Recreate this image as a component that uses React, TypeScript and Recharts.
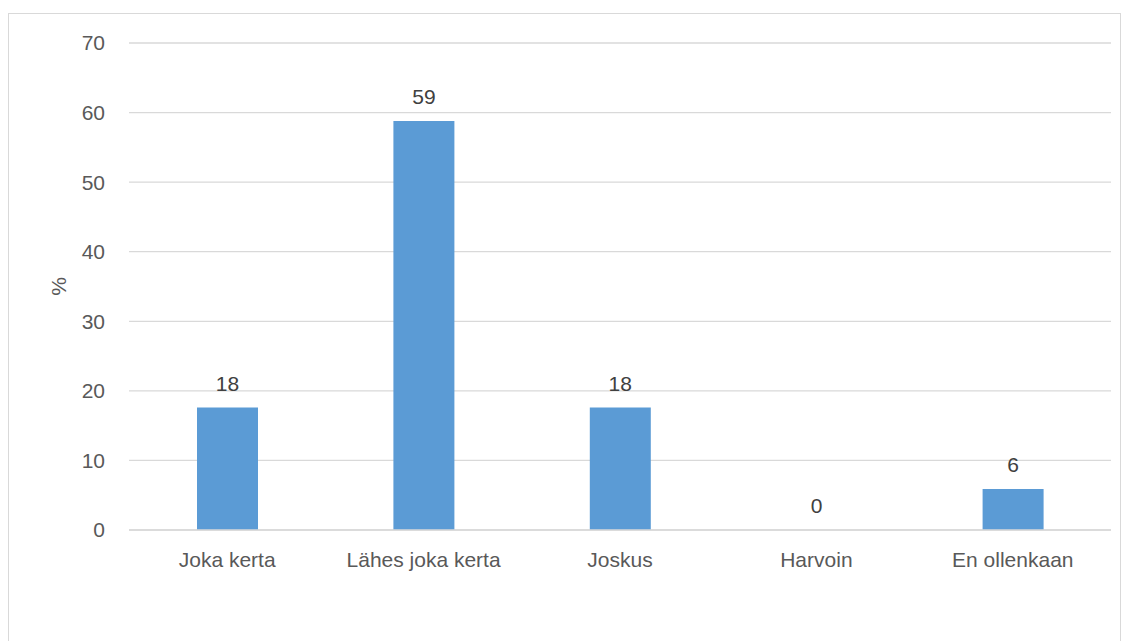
import React from 'react';
import { BarChart, Bar, XAxis, YAxis, CartesianGrid, LabelList } from 'recharts';

const categories = ['Joka kerta', 'Lähes joka kerta', 'Joskus', 'Harvoin', 'En ollenkaan'];
const percentages = [17.6, 58.8, 17.6, 0, 5.9];
const yTicks = [0, 10, 20, 30, 40, 50, 60, 70];

const data = categories.map((name, i) => ({ name, value: percentages[i] }));

const FONT = '"Liberation Sans", Arial, sans-serif';

export default function App() {
  return (
    <div style={{ position: 'absolute', left: 0, top: 0, width: 1129, height: 641, background: '#fff', overflow: 'hidden', fontFamily: FONT }}>
      {/* chart frame, bottom edge falls outside the picture */}
      <div style={{ position: 'absolute', left: 8, top: 13, width: 1111, height: 660, border: '1px solid #d9d9d9' }} />
      <div style={{ position: 'absolute', left: 0, top: 0 }}>
        <BarChart width={1129} height={641} data={data} margin={{ top: 43, right: 18, bottom: 81, left: 0 }}>
          <CartesianGrid vertical={false} stroke="#d9d9d9" strokeWidth={1.3} />
          <XAxis
            dataKey="name"
            height={30}
            tickLine={false}
            axisLine={{ stroke: '#d9d9d9', strokeWidth: 1.3 }}
            tick={{ fill: '#595959', fontSize: 21, fontFamily: FONT }}
            tickMargin={16}
            interval={0}
          />
          <YAxis
            width={129}
            domain={[0, 70]}
            ticks={yTicks}
            tickLine={false}
            axisLine={false}
            tick={{ fill: '#595959', fontSize: 21, fontFamily: FONT }}
            tickMargin={18}
            label={{ value: '%', angle: -90, position: 'center', dx: -6, fill: '#595959', fontSize: 21, fontFamily: FONT }}
          />
          {/* minPointSize keeps the zero bar (and its "0" label) in the output */}
          <Bar dataKey="value" fill="#5b9bd5" barSize={61} minPointSize={0.01} isAnimationActive={false}>
            <LabelList
              dataKey="value"
              position="top"
              offset={17}
              formatter={(v: number) => String(Math.round(v))}
              style={{ fill: '#404040', fontSize: 21, fontFamily: FONT }}
            />
          </Bar>
        </BarChart>
      </div>
    </div>
  );
}
